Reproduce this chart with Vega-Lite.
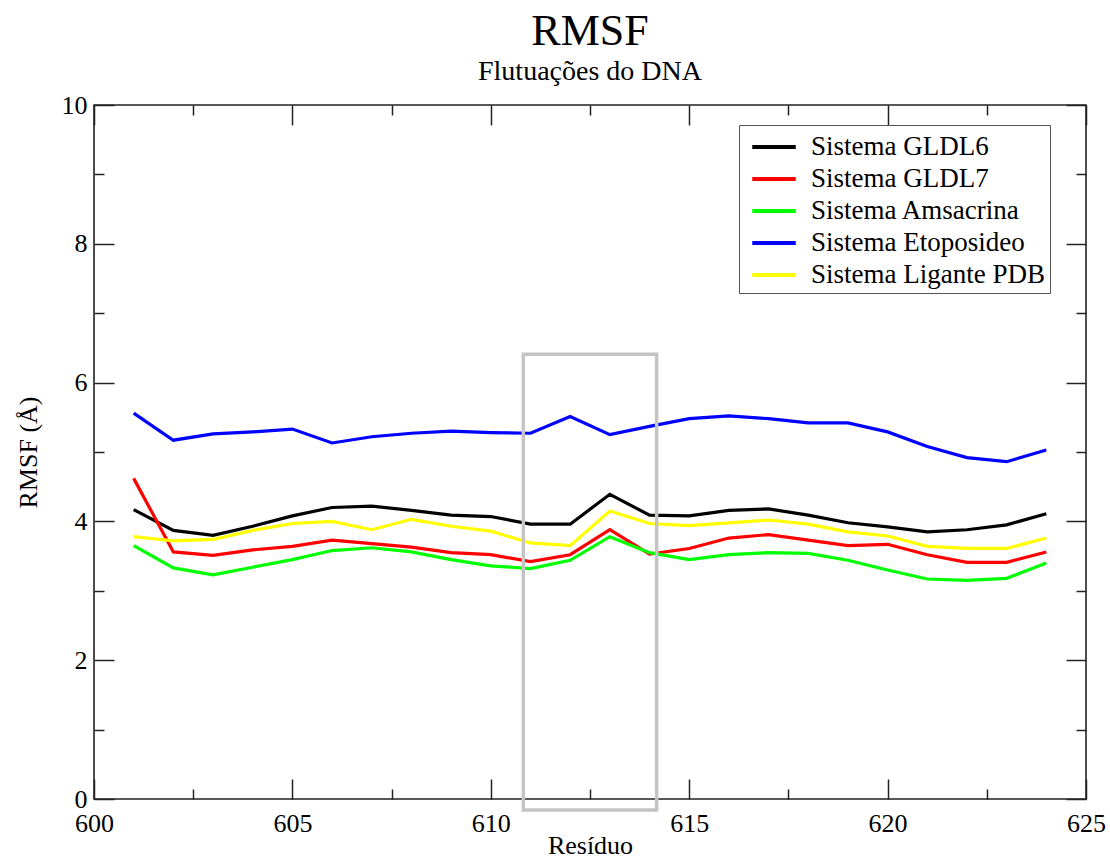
{
  "$schema": "https://vega.github.io/schema/vega-lite/v6.json",
  "autosize": "none",
  "width": 992,
  "height": 694,
  "padding": {"left": 94, "top": 105, "right": 24, "bottom": 60},
  "background": "white",
  "title": {
    "text": "RMSF",
    "subtitle": "Flutuações do DNA",
    "font": "Liberation Serif, DejaVu Serif, serif",
    "fontSize": 44,
    "fontWeight": "normal",
    "color": "black",
    "subtitleFont": "Liberation Serif, DejaVu Serif, serif",
    "subtitleFontSize": 28,
    "subtitleColor": "black",
    "subtitlePadding": 4,
    "anchor": "middle",
    "offset": 6
  },
  "datasets": {
    "rmsf": [
      {"residuo": 601, "Sistema GLDL6": 4.17, "Sistema GLDL7": 4.62, "Sistema Amsacrina": 3.65, "Sistema Etoposideo": 5.56, "Sistema Ligante PDB": 3.78},
      {"residuo": 602, "Sistema GLDL6": 3.87, "Sistema GLDL7": 3.56, "Sistema Amsacrina": 3.33, "Sistema Etoposideo": 5.17, "Sistema Ligante PDB": 3.72},
      {"residuo": 603, "Sistema GLDL6": 3.80, "Sistema GLDL7": 3.51, "Sistema Amsacrina": 3.23, "Sistema Etoposideo": 5.26, "Sistema Ligante PDB": 3.74},
      {"residuo": 604, "Sistema GLDL6": 3.93, "Sistema GLDL7": 3.59, "Sistema Amsacrina": 3.34, "Sistema Etoposideo": 5.29, "Sistema Ligante PDB": 3.87},
      {"residuo": 605, "Sistema GLDL6": 4.08, "Sistema GLDL7": 3.64, "Sistema Amsacrina": 3.45, "Sistema Etoposideo": 5.33, "Sistema Ligante PDB": 3.97},
      {"residuo": 606, "Sistema GLDL6": 4.20, "Sistema GLDL7": 3.73, "Sistema Amsacrina": 3.58, "Sistema Etoposideo": 5.13, "Sistema Ligante PDB": 4.00},
      {"residuo": 607, "Sistema GLDL6": 4.22, "Sistema GLDL7": 3.68, "Sistema Amsacrina": 3.62, "Sistema Etoposideo": 5.22, "Sistema Ligante PDB": 3.88},
      {"residuo": 608, "Sistema GLDL6": 4.16, "Sistema GLDL7": 3.63, "Sistema Amsacrina": 3.56, "Sistema Etoposideo": 5.27, "Sistema Ligante PDB": 4.03},
      {"residuo": 609, "Sistema GLDL6": 4.09, "Sistema GLDL7": 3.55, "Sistema Amsacrina": 3.45, "Sistema Etoposideo": 5.30, "Sistema Ligante PDB": 3.93},
      {"residuo": 610, "Sistema GLDL6": 4.07, "Sistema GLDL7": 3.52, "Sistema Amsacrina": 3.36, "Sistema Etoposideo": 5.28, "Sistema Ligante PDB": 3.86},
      {"residuo": 611, "Sistema GLDL6": 3.96, "Sistema GLDL7": 3.42, "Sistema Amsacrina": 3.32, "Sistema Etoposideo": 5.27, "Sistema Ligante PDB": 3.69},
      {"residuo": 612, "Sistema GLDL6": 3.96, "Sistema GLDL7": 3.52, "Sistema Amsacrina": 3.44, "Sistema Etoposideo": 5.51, "Sistema Ligante PDB": 3.65},
      {"residuo": 613, "Sistema GLDL6": 4.39, "Sistema GLDL7": 3.88, "Sistema Amsacrina": 3.78, "Sistema Etoposideo": 5.25, "Sistema Ligante PDB": 4.15},
      {"residuo": 614, "Sistema GLDL6": 4.09, "Sistema GLDL7": 3.53, "Sistema Amsacrina": 3.55, "Sistema Etoposideo": 5.37, "Sistema Ligante PDB": 3.97},
      {"residuo": 615, "Sistema GLDL6": 4.08, "Sistema GLDL7": 3.61, "Sistema Amsacrina": 3.45, "Sistema Etoposideo": 5.48, "Sistema Ligante PDB": 3.94},
      {"residuo": 616, "Sistema GLDL6": 4.16, "Sistema GLDL7": 3.76, "Sistema Amsacrina": 3.52, "Sistema Etoposideo": 5.52, "Sistema Ligante PDB": 3.98},
      {"residuo": 617, "Sistema GLDL6": 4.18, "Sistema GLDL7": 3.81, "Sistema Amsacrina": 3.55, "Sistema Etoposideo": 5.48, "Sistema Ligante PDB": 4.02},
      {"residuo": 618, "Sistema GLDL6": 4.09, "Sistema GLDL7": 3.73, "Sistema Amsacrina": 3.54, "Sistema Etoposideo": 5.42, "Sistema Ligante PDB": 3.96},
      {"residuo": 619, "Sistema GLDL6": 3.98, "Sistema GLDL7": 3.65, "Sistema Amsacrina": 3.44, "Sistema Etoposideo": 5.42, "Sistema Ligante PDB": 3.85},
      {"residuo": 620, "Sistema GLDL6": 3.92, "Sistema GLDL7": 3.67, "Sistema Amsacrina": 3.30, "Sistema Etoposideo": 5.29, "Sistema Ligante PDB": 3.79},
      {"residuo": 621, "Sistema GLDL6": 3.85, "Sistema GLDL7": 3.52, "Sistema Amsacrina": 3.17, "Sistema Etoposideo": 5.08, "Sistema Ligante PDB": 3.64},
      {"residuo": 622, "Sistema GLDL6": 3.88, "Sistema GLDL7": 3.41, "Sistema Amsacrina": 3.15, "Sistema Etoposideo": 4.92, "Sistema Ligante PDB": 3.61},
      {"residuo": 623, "Sistema GLDL6": 3.95, "Sistema GLDL7": 3.41, "Sistema Amsacrina": 3.18, "Sistema Etoposideo": 4.86, "Sistema Ligante PDB": 3.61},
      {"residuo": 624, "Sistema GLDL6": 4.11, "Sistema GLDL7": 3.56, "Sistema Amsacrina": 3.40, "Sistema Etoposideo": 5.03, "Sistema Ligante PDB": 3.76}
    ],
    "destaque": [
      {"x": 610.82, "x2": 614.18, "y": -0.16, "y2": 6.41}
    ]
  },
  "layer": [
    {
      "data": {"name": "rmsf"},
      "transform": [
        {"fold": ["Sistema GLDL6", "Sistema GLDL7", "Sistema Amsacrina", "Sistema Etoposideo", "Sistema Ligante PDB"], "as": ["sistema", "valor"]}
      ],
      "mark": {"type": "line", "strokeWidth": 3.2, "clip": true},
      "encoding": {
        "x": {
          "field": "residuo",
          "type": "quantitative",
          "scale": {"domain": [600, 625], "nice": false, "zero": false},
          "axis": {
            "orient": "bottom",
            "title": "Resíduo",
            "values": [600, 602.5, 605, 607.5, 610, 612.5, 615, 617.5, 620, 622.5, 625],
            "labelExpr": "datum.value % 5 === 0 ? datum.label : ''",
            "tickSize": {"condition": {"test": "datum.value % 5 === 0", "value": -20}, "value": -10},
            "labelPadding": 31,
            "titleY": 54,
            "titleBaseline": "alphabetic"
          }
        },
        "y": {
          "field": "valor",
          "type": "quantitative",
          "scale": {"domain": [0, 10], "nice": false, "zero": false},
          "axis": {
            "orient": "left",
            "title": "RMSF (Å)",
            "values": [0, 1, 2, 3, 4, 5, 6, 7, 8, 9, 10],
            "labelExpr": "datum.value % 2 === 0 ? datum.label : ''",
            "tickSize": {"condition": {"test": "datum.value % 2 === 0", "value": -20}, "value": -10},
            "labelPadding": 27,
            "titleX": -66,
            "titleY": 347,
            "titleAngle": -90,
            "titleBaseline": "middle",
            "titleAlign": "center"
          }
        },
        "color": {
          "field": "sistema",
          "type": "nominal",
          "sort": ["Sistema GLDL6", "Sistema GLDL7", "Sistema Amsacrina", "Sistema Etoposideo", "Sistema Ligante PDB"],
          "scale": {
            "domain": ["Sistema GLDL6", "Sistema GLDL7", "Sistema Amsacrina", "Sistema Etoposideo", "Sistema Ligante PDB"],
            "range": ["#000000", "#ff0000", "#00ff00", "#0000ff", "#ffff00"]
          },
          "legend": {
            "title": null,
            "orient": "none",
            "legendX": 645,
            "legendY": 20,
            "symbolType": "M-1.45,0H1.45",
            "symbolSize": 900,
            "symbolStrokeWidth": 4,
            "symbolOffset": 13,
            "labelFont": "Liberation Serif, DejaVu Serif, serif",
            "labelFontSize": 27,
            "labelColor": "black",
            "labelLimit": 400,
            "labelOffset": 20,
            "rowPadding": 2,
            "padding": 5,
            "strokeColor": "#555555",
            "fillColor": "white"
          }
        }
      }
    },
    {
      "data": {"name": "destaque"},
      "mark": {"type": "rect", "fill": null, "fillOpacity": 0, "stroke": "#c4c4c4", "strokeWidth": 3.5, "clip": false},
      "encoding": {
        "x": {
          "field": "x",
          "type": "quantitative",
          "axis": {
            "orient": "top",
            "title": null,
            "labels": false,
            "values": [600, 602.5, 605, 607.5, 610, 612.5, 615, 617.5, 620, 622.5, 625],
            "tickSize": {"condition": {"test": "datum.value % 5 === 0", "value": -20}, "value": -10}
          }
        },
        "x2": {"field": "x2"},
        "y": {
          "field": "y",
          "type": "quantitative",
          "axis": {
            "orient": "right",
            "title": null,
            "labels": false,
            "values": [0, 1, 2, 3, 4, 5, 6, 7, 8, 9, 10],
            "tickSize": {"condition": {"test": "datum.value % 2 === 0", "value": -20}, "value": -10}
          }
        },
        "y2": {"field": "y2"}
      }
    }
  ],
  "resolve": {"axis": {"x": "independent", "y": "independent"}},
  "config": {
    "view": {"stroke": "#222222", "strokeWidth": 1.6},
    "axis": {
      "domain": false,
      "grid": false,
      "tickColor": "#222222",
      "tickWidth": 1.5,
      "labelFont": "Liberation Serif, DejaVu Serif, serif",
      "labelFontSize": 26,
      "labelColor": "black",
      "titleFont": "Liberation Serif, DejaVu Serif, serif",
      "titleFontSize": 26,
      "titleFontWeight": "normal",
      "titleColor": "black",
      "labelFlush": false,
      "labelOverlap": false
    }
  }
}
